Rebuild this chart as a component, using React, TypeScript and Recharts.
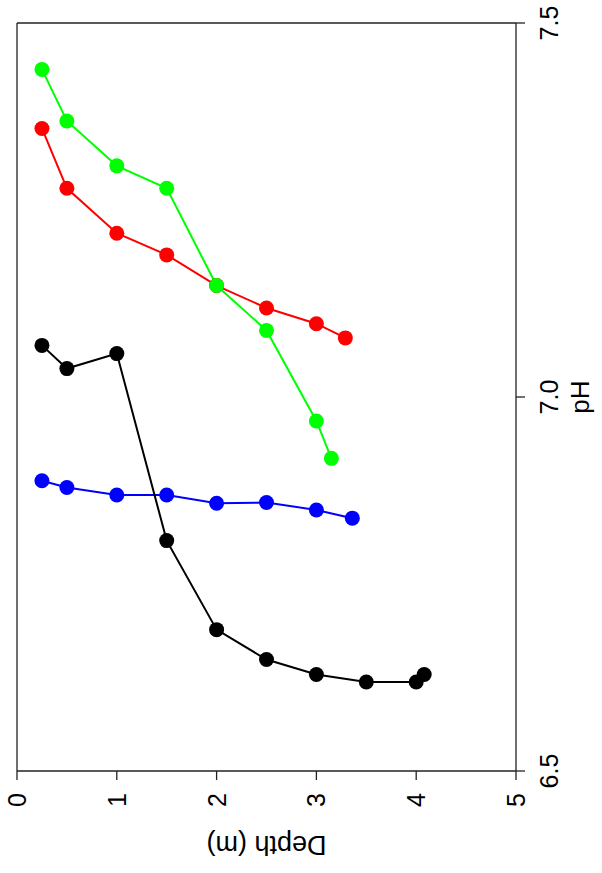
import React from 'react';
import { LineChart, Line, XAxis, YAxis, ReferenceLine } from 'recharts';

// depth (m) and pH per profile
const blackDepth = [0.25, 0.5, 1.0, 1.5, 2.0, 2.5, 3.0, 3.5, 4.0, 4.08];
const blackPH = [7.069, 7.038, 7.058, 6.808, 6.689, 6.649, 6.629, 6.619, 6.619, 6.629];

const blueDepth = [0.25, 0.5, 1.0, 1.5, 2.0, 2.5, 3.0, 3.36];
const bluePH = [6.888, 6.879, 6.869, 6.869, 6.858, 6.859, 6.849, 6.838];

const redDepth = [0.25, 0.5, 1.0, 1.5, 2.0, 2.5, 3.0, 3.29];
const redPH = [7.359, 7.279, 7.219, 7.19, 7.149, 7.119, 7.098, 7.079];

const greenDepth = [0.25, 0.5, 1.0, 1.5, 2.0, 2.5, 3.0, 3.15];
const greenPH = [7.438, 7.369, 7.309, 7.279, 7.149, 7.089, 6.968, 6.918];

const depthTicks = [0, 1, 2, 3, 4, 5];
const phTicks = [6.5, 7.0, 7.5];

const FONT = '"Liberation Sans", Arial, sans-serif';
const AXIS = '#222';

const toRows = (depth: number[], ph: number[]) => depth.map((d, i) => ({ depth: d, ph: ph[i] }));

const series = [
  { name: 'blue', color: '#0000ff', rows: toRows(blueDepth, bluePH) },
  { name: 'black', color: '#000000', rows: toRows(blackDepth, blackPH) },
  { name: 'red', color: '#ff0000', rows: toRows(redDepth, redPH) },
  { name: 'green', color: '#00ff00', rows: toRows(greenDepth, greenPH) },
];

const DepthTick = (props: any) => {
  const { x, y, payload } = props;
  const cy = y + 20;
  return (
    <text x={x} y={cy} transform={`rotate(-90, ${x}, ${cy})`} textAnchor="middle" dominantBaseline="central"
      fontFamily={FONT} fontSize={25} fill="#000">
      {payload.value}
    </text>
  );
};

const PhTick = (props: any) => {
  const { x, y, payload } = props;
  const cx = x + 24;
  return (
    <text x={cx} y={y} transform={`rotate(-90, ${cx}, ${y})`} textAnchor="middle" dominantBaseline="central"
      fontFamily={FONT} fontSize={25} fill="#000">
      {Number(payload.value).toFixed(1)}
    </text>
  );
};

const DepthLabel = (props: any) => {
  const { x, y, width } = props.viewBox;
  const cx = x + width / 2;
  const cy = y + 74;
  return (
    <text x={cx} y={cy} transform={`rotate(180, ${cx}, ${cy})`} textAnchor="middle" dominantBaseline="central"
      fontFamily={FONT} fontSize={27} fill="#000">
      Depth (m)
    </text>
  );
};

const PhLabel = (props: any) => {
  const { x, y, height } = props.viewBox;
  const cx = x + 64;
  const cy = y + height / 2;
  return (
    <text x={cx} y={cy} transform={`rotate(-90, ${cx}, ${cy})`} textAnchor="middle" dominantBaseline="central"
      fontFamily={FONT} fontSize={26} fill="#000">
      pH
    </text>
  );
};

export default function App() {
  return (
    <div style={{ position: 'absolute', left: 0, top: 0, width: 602, height: 873, background: '#fff' }}>
      <LineChart width={602} height={873} margin={{ top: 23, left: 17, right: 0, bottom: 0 }}>
        <XAxis
          type="number"
          dataKey="depth"
          domain={[0, 5]}
          ticks={depthTicks}
          height={102}
          tickSize={9}
          tickMargin={0}
          axisLine={{ stroke: AXIS, strokeWidth: 1.3 }}
          tickLine={{ stroke: AXIS, strokeWidth: 1.3 }}
          tick={<DepthTick />}
          label={<DepthLabel />}
          allowDuplicatedCategory={false}
        />
        <YAxis
          type="number"
          dataKey="ph"
          orientation="right"
          domain={[6.5, 7.5]}
          ticks={phTicks}
          width={86}
          tickSize={9}
          tickMargin={0}
          axisLine={{ stroke: AXIS, strokeWidth: 1.3 }}
          tickLine={{ stroke: AXIS, strokeWidth: 1.3 }}
          tick={<PhTick />}
          label={<PhLabel />}
        />
        <ReferenceLine x={0} stroke={AXIS} strokeWidth={1.3} />
        <ReferenceLine y={7.5} stroke={AXIS} strokeWidth={1.3} />
        {series.map((s) => (
          <Line
            key={s.name}
            data={s.rows}
            dataKey="ph"
            type="linear"
            stroke={s.color}
            strokeWidth={2}
            dot={{ r: 7.5, fill: s.color, stroke: 'none' }}
            activeDot={false}
            isAnimationActive={false}
          />
        ))}
      </LineChart>
    </div>
  );
}
